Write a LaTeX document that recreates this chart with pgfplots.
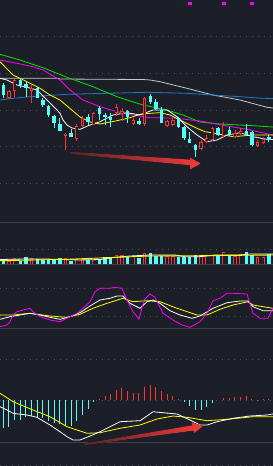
\documentclass[border=0pt]{standalone}
\usepackage{pgfplots}
\pgfplotsset{compat=1.18}
\definecolor{bgc}{HTML}{1D1F28}
\definecolor{cy}{HTML}{54FCFC}
\definecolor{rd}{HTML}{FF3232}
\definecolor{gridc}{HTML}{4A4E58}
\definecolor{sepc}{HTML}{3C4049}
\definecolor{ma5}{HTML}{FFFFFF}
\definecolor{ma10}{HTML}{FFFF00}
\definecolor{ma20}{HTML}{FF00FF}
\definecolor{ma30}{HTML}{00E600}
\definecolor{ma60}{HTML}{1E7CC8}
\definecolor{ma120}{HTML}{C8C8C8}
\definecolor{arr}{HTML}{F53A3A}
\pgfplotsset{idx/.style={x filter/.expression={3.3+5.65*x}}}
% candle macros: index, body top, body bottom, high, low (pixel rows)
\newcommand\dn[5]{\addplot[cy,idx,line width=0.8pt] coordinates {(#1,#4)(#1,#5)};\addplot[cy,idx,line width=3.4pt] coordinates {(#1,#2)(#1,#3)};}
\newcommand\up[5]{\pgfmathsetmacro\ya{#2+0.8}\pgfmathsetmacro\yb{#3-0.8}\addplot[rd,idx,line width=0.8pt] coordinates {(#1,#4)(#1,#5)};\addplot[rd,idx,line width=3.4pt] coordinates {(#1,#2)(#1,#3)};\addplot[bgc,idx,line width=1.8pt] coordinates {(#1,\ya)(#1,\yb)};}
\newcommand\vd[2]{\addplot[cy,idx,line width=3.4pt] coordinates {(#1,#2)(#1,263.5)};}
\newcommand\vu[2]{\pgfmathsetmacro\ya{#2+0.8}\addplot[rd,idx,line width=3.4pt] coordinates {(#1,#2)(#1,263.5)};\addplot[bgc,idx,line width=1.8pt] coordinates {(#1,\ya)(#1,263.5)};}
\newcommand\hc[2]{\addplot[cy,idx,line width=1pt] coordinates {(#1,400.3)(#1,#2)};}
\newcommand\hr[2]{\addplot[rd,idx,line width=1pt] coordinates {(#1,400.3)(#1,#2)};}
\newcommand\gl[1]{\addplot[gridc,line width=1pt,dash pattern=on 1pt off 5pt] coordinates {(0,#1)(273,#1)};}
\newcommand\sepl[1]{\addplot[sepc,line width=1.2pt] coordinates {(0,#1)(273,#1)};}
\begin{document}
\begin{tikzpicture}
\begin{axis}[
 width=273pt, height=466pt, scale only axis,
 xmin=0, xmax=273, ymin=0, ymax=466, y dir=reverse,
 axis lines=none, ticks=none, clip=true,
]
\fill[bgc] (0,0) rectangle (273,466);
% grid and separators
\gl{36}\gl{73.3}\gl{110}\gl{146.7}\gl{183.3}
\gl{249.3}\gl{288.3}\gl{316}
\gl{359}\gl{400.3}\gl{465}
\sepl{222.8}\sepl{264.2}\sepl{328.3}\sepl{442.3}
% marker squares
\addplot[only marks, mark=square*, mark size=1.4pt, color=ma20] coordinates {(189.7,3.2)(223.7,3.2)(251.3,3.2)};
% moving averages (price panel)
\addplot[ma120,line width=0.8pt] coordinates {(0,78.3)(58,78.3)(60,79)(143,79.5)(150,80)(160,81.7)(187,88.3)(213,95)(240,100)(267,107.3)(273,108)};
\addplot[ma60,line width=0.8pt] coordinates {(0,100)(13,98.3)(30,96.7)(67,94.3)(147,92.3)(187,93.3)(213,95)(240,96.7)(263,98.3)(273,98.5)};
\addplot[ma30,line width=0.8pt] coordinates {(0,54.3)(20,60)(43,67.7)(67,77.3)(93,86.7)(117,96.7)(127,100)(143,105)(167,110)(183,115)(200,122)(220,124)(250,125.5)(273,127)};
\addplot[ma20,line width=0.8pt] coordinates {(0,60)(17,63.3)(33,66.7)(43,70)(60,80)(70,90)(83,100)(100,106.7)(117,111.7)(133,115)(150,117.7)(173,118)(200,121)(227,126)(247,129.3)(273,135)};
\addplot[ma10,line width=0.8pt] coordinates {(0,61.7)(13,75)(27,81.7)(40,88.3)(50,95)(60,100)(70,108.5)(80,117)(90,122)(100,124)(117,120.7)(130,117.7)(140,114.3)(150,113.3)(160,112.7)(170,115)(180,120)(190,125)(197,128.3)(205,131.7)(213,133)(233,136.7)(253,135)(273,135)};
\addplot[ma5,line width=0.8pt] coordinates {(0,78.3)(7,80)(17,85)(27,87.3)(37,90)(47,100)(57,110)(60,113.3)(63,120)(67,125)(72,128)(80,129.3)(90,125)(100,121.7)(113,115)(127,112.7)(140,115)(153,110)(167,110)(177,116.7)(187,126.7)(197,135)(207,141.7)(217,140)(227,135)(240,132.7)(253,136.7)(267,139.3)(273,139.5)};
% candles
\dn{0}{85}{95}{83}{98}
\up{1}{91}{98}{90}{99}
\up{2}{80}{91}{78}{97}
\dn{3}{80}{85}{78}{88}
\dn{4}{84}{88}{82}{97}
\up{5}{88}{91}{85}{103}
\dn{6}{88}{98}{87}{98}
\dn{7}{100}{105}{98}{107}
\dn{8}{106}{115}{105}{117}
\dn{9}{116}{123}{115}{128}
\dn{10}{124}{131}{118}{131}
\up{11}{133.5}{135.5}{133}{150}
\dn{12}{133}{137}{129}{137}
\up{13}{126}{139}{124}{141}
\up{14}{118}{126}{116}{127}
\dn{15}{117}{122}{114}{125}
\up{16}{113}{125}{112}{125}
\dn{17}{108}{114}{106}{120}
\dn{18}{115}{117}{113}{125}
\dn{19}{117}{120}{113}{127}
\up{20}{107}{113}{104}{116}
\up{21}{111}{114}{108}{121}
\dn{22}{111}{117}{110}{123}
\up{23}{120}{124}{118}{125}
\dn{24}{121}{124}{118}{125}
\up{25}{98}{124}{97}{126}
\dn{26}{96}{102}{94}{104}
\dn{27}{102}{109}{99}{110}
\dn{28}{110}{123}{107}{123}
\up{29}{121}{126}{120}{127}
\up{30}{120}{125}{118}{126}
\dn{31}{118}{127}{117}{128}
\dn{32}{127}{138}{126}{140}
\dn{33}{139}{143}{132}{143}
\dn{34}{145}{150}{144}{157}
\up{35}{142}{149}{140}{150}
\up{36}{138}{142}{135}{143}
\up{37}{128}{140}{127}{141}
\dn{38}{128}{135}{127}{136}
\up{39}{125}{136}{122}{137}
\dn{40}{130}{135}{127}{136}
\up{41}{133}{137}{130}{138}
\up{42}{131}{134}{128}{135}
\dn{43}{131}{135}{124}{136}
\dn{44}{132}{145}{131}{146}
\up{45}{142}{146}{140}{147}
\up{46}{139}{143}{137}{144}
\dn{47}{137}{140}{135}{142}
% arrow 1
\fill[left color=arr!25!bgc, right color=arr] (70,151.6)--(190,159.6)--(190,157.5)--(200.8,163.5)--(190,169.5)--(190,165.2)--(70,154)--cycle;
% volume
\vd{0}{260}\vu{1}{260.7}\vu{2}{258.3}\vd{3}{260.7}\vd{4}{257.3}\vu{5}{258.3}
\vd{6}{259.3}\vd{7}{260}\vd{8}{260}\vd{9}{260}\vd{10}{258.3}\vu{11}{258.3}
\vd{12}{260.7}\vu{13}{259.3}\vu{14}{259.3}\vd{15}{260}\vu{16}{259.5}\vd{17}{259.5}
\vd{18}{257.3}\vd{19}{257.3}\vu{20}{255}\vu{21}{255}\vd{22}{256.7}\vu{23}{257.5}
\vd{24}{257.5}\vu{25}{253.3}\vd{26}{253.3}\vd{27}{256}\vd{28}{256}\vu{29}{256}
\vu{30}{256}\vd{31}{256.7}\vd{32}{256.7}\vd{33}{257.3}\vd{34}{255}\vu{35}{255}
\vu{36}{255}\vu{37}{255}\vd{38}{256}\vu{39}{252.3}\vd{40}{256}\vu{41}{256}
\vu{42}{254}\vd{43}{252.3}\vd{44}{255}\vu{45}{257.3}\vu{46}{257.3}\vd{47}{254}
\addplot[ma5,line width=0.8pt] coordinates {(0,259.5)(25,259)(45,259)(80,260)(100,259.5)(115,257.3)(130,256)(150,255)(175,255)(185,256.7)(200,256.7)(215,255)(240,255)(250,254)(273,254)};
\addplot[ma10,line width=0.9pt] coordinates {(0,260.7)(67,259.3)(117,257.3)(150,256)(200,255.7)(273,255)};
% KDJ
\addplot[ma10,line width=0.8pt] coordinates {(0,315)(13,315)(30,313.3)(50,316)(67,317.3)(80,314.3)(93,308.3)(107,303.3)(123,298.3)(133,301.7)(147,300.7)(160,301.7)(177,308.3)(197,315)(207,315)(220,309.3)(233,305)(248,301.7)(253,305)(267,307.3)(273,308.3)};
\addplot[ma5,line width=0.8pt] coordinates {(0,319.3)(10,316.7)(20,315)(30,313.3)(40,315)(50,317.3)(60,319.3)(70,316.7)(80,312.7)(90,306)(100,300)(110,298.3)(117,296)(123,296)(130,303.3)(140,308.3)(147,301.7)(153,300)(160,303.3)(170,310.7)(180,315)(192,318.3)(200,316)(213,308.3)(227,302.7)(240,301)(248,301)(253,306.7)(263,310.7)(273,310.7)};
\addplot[ma20,line width=0.8pt] coordinates {(0,326.7)(7,325)(10,321.7)(13,315)(17,311.7)(23,310)(30,308.3)(33,311.7)(40,316.7)(50,320)(60,321.7)(70,316.7)(77,313.3)(83,308.3)(90,301.7)(95,291.7)(100,288.3)(110,288.3)(115,287.3)(122,288.3)(127,300)(133,311.7)(139,319.3)(144,300)(150,294)(155,297.3)(163,313.3)(173,320)(182,325)(190,327.3)(200,321.7)(207,313.3)(213,300.7)(220,298.3)(227,293.3)(233,293.3)(247,294)(253,313.3)(260,318.3)(268,318.3)(273,308.3)};
% MACD histogram
\hc{0}{427.5}\hc{1}{427}\hc{2}{420}\hc{3}{419.5}\hc{4}{417}\hc{5}{415.5}
\hc{6}{417.5}\hc{7}{418}\hc{8}{421}\hc{9}{422.5}\hc{10}{424}\hc{11}{426}
\hc{12}{426}\hc{13}{421}\hc{14}{415}\hc{15}{409}\hc{16}{401.7}\hr{17}{399.3}
\hr{18}{396}\hr{19}{393.5}\hr{20}{390}\hr{21}{387.5}\hr{22}{391}\hr{23}{392.5}
\hr{24}{393.3}\hr{25}{386.7}\hr{26}{385}\hr{27}{386.7}\hr{28}{391}\hr{29}{394}
\hr{30}{396}\hr{31}{399.3}\hc{32}{401.7}\hc{33}{406}\hc{34}{410}\hc{35}{410}
\hc{36}{406.7}\hc{37}{402.7}\hr{39}{398.3}\hr{40}{398.3}\hr{41}{397.3}
\hr{42}{396.7}\hr{43}{396}\hr{44}{399.3}\hr{45}{399.6}\hr{46}{399.3}\hr{47}{399}
% MACD lines
\addplot[ma10,line width=0.8pt] coordinates {(0,393.3)(13,401.7)(33,410)(50,416.7)(67,426.7)(87,433.3)(100,432.7)(120,428.3)(140,425)(157,419)(173,416)(187,417.3)(207,420.7)(227,419.3)(253,416.7)(273,416.7)};
\addplot[ma5,line width=0.8pt] coordinates {(0,406.7)(7,410)(13,413.3)(27,415)(37,417.3)(50,425)(60,431.7)(67,436.7)(73,440)(80,440)(87,437.3)(100,431.7)(110,426.7)(120,421.7)(140,420.7)(147,416)(153,411.7)(163,412.7)(177,414)(190,420)(200,425)(207,425)(217,421.7)(233,418.3)(250,416)(267,415)(273,414)};
% arrow 2
\fill[left color=arr!25!bgc, right color=arr] (83.3,443.6)--(192.5,425.3)--(191.5,422.3)--(203,426)--(194,433.2)--(193.5,430.6)--(84,445.3)--cycle;
\end{axis}
\end{tikzpicture}
\end{document}
